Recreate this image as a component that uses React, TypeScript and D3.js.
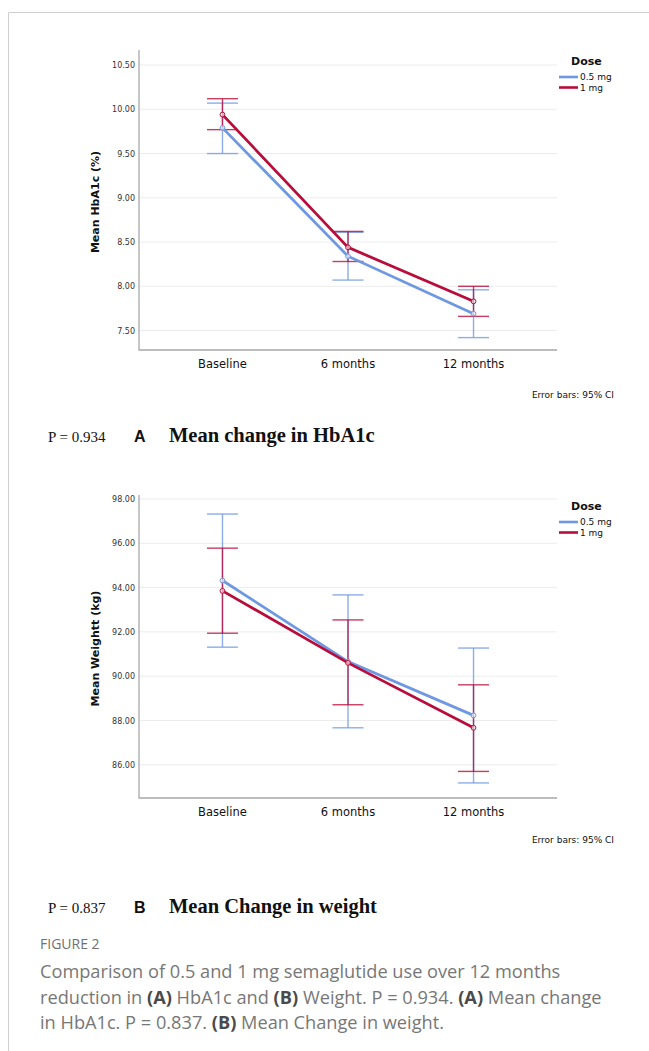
import React, { useRef, useEffect } from "react";
import * as d3 from "d3";

const categories = ["Baseline", "6 months", "12 months"];
const doses = ["0.5 mg", "1 mg"];
const doseColors = ["#6f98e3", "#b80d3a"];

// HbA1c (%), 95% CI
const hbMeanLow = [9.79, 8.34, 7.69];
const hbLoLow = [9.5, 8.07, 7.42];
const hbHiLow = [10.07, 8.61, 7.96];
const hbMeanHigh = [9.94, 8.44, 7.83];
const hbLoHigh = [9.77, 8.28, 7.66];
const hbHiHigh = [10.12, 8.62, 8.0];
const hbTicks = [7.5, 8.0, 8.5, 9.0, 9.5, 10.0, 10.5];

// Weight (kg), 95% CI
const wtMeanLow = [94.32, 90.66, 88.23];
const wtLoLow = [91.31, 87.67, 85.18];
const wtHiLow = [97.32, 93.67, 91.27];
const wtMeanHigh = [93.85, 90.6, 87.67];
const wtLoHigh = [91.94, 88.71, 85.7];
const wtHiHigh = [95.78, 92.54, 89.61];
const wtTicks = [86, 88, 90, 92, 94, 96, 98];

const sans = "'DejaVu Sans', Verdana, sans-serif";
const arial = "'Liberation Sans', Arial, sans-serif";
const serif = "'Liberation Serif', 'Times New Roman', serif";

const drawPanel = (g, opts) => {
  const { top, bottom, domain, ticks, title, series } = opts;
  const left = 139;
  const right = 557;

  const x = d3.scalePoint().domain(categories).range([left, right]).padding(0.665);
  const y = d3.scaleLinear().domain(domain).range([bottom, top]);

  // gridlines
  g.append("g")
    .selectAll("line")
    .data(ticks)
    .join("line")
    .attr("x1", left)
    .attr("x2", right)
    .attr("y1", (d) => y(d))
    .attr("y2", (d) => y(d))
    .attr("stroke", "#ececec")
    .attr("stroke-width", 1);

  // y axis
  const yAxis = d3.axisLeft(y).tickValues(ticks).tickSize(0).tickPadding(4).tickFormat(d3.format(".2f"));
  g.append("g")
    .attr("transform", `translate(${left},0)`)
    .call(yAxis)
    .call((a) => a.select(".domain").remove())
    .call((a) =>
      a.selectAll(".tick text").attr("fill", "#333").style("font-family", sans).style("font-size", "8px")
    );

  // axis lines
  g.append("path")
    .attr("d", `M${left},${top}V${bottom}H${right}`)
    .attr("fill", "none")
    .attr("stroke", "#a8a8a8")
    .attr("stroke-width", 1.3);

  // x labels
  g.append("g")
    .selectAll("text")
    .data(categories)
    .join("text")
    .attr("x", (d) => x(d))
    .attr("y", bottom + 18)
    .attr("text-anchor", "middle")
    .style("font-family", sans)
    .style("font-size", "11.5px")
    .attr("fill", "#111")
    .text((d) => d);

  // y title
  g.append("text")
    .attr("transform", `translate(99,${(top + bottom) / 2 + 2}) rotate(-90)`)
    .attr("text-anchor", "middle")
    .style("font-family", sans)
    .style("font-size", "11px")
    .style("font-weight", "bold")
    .attr("fill", "#111")
    .text(title);

  // error bars
  series.forEach((s, si) => {
    const color = doseColors[si];
    const pts = categories.map((c, i) => ({ c, m: s.mean[i], lo: s.lo[i], hi: s.hi[i] }));
    const eb = g.append("g").attr("stroke", color).attr("stroke-opacity", 0.8).attr("stroke-width", 1.4);
    eb.selectAll(".v")
      .data(pts)
      .join("line")
      .attr("x1", (d) => x(d.c))
      .attr("x2", (d) => x(d.c))
      .attr("y1", (d) => y(d.lo))
      .attr("y2", (d) => y(d.hi));
    ["lo", "hi"].forEach((k) => {
      eb.selectAll(`.cap-${k}`)
        .data(pts)
        .join("line")
        .attr("x1", (d) => x(d.c) - 15.5)
        .attr("x2", (d) => x(d.c) + 15.5)
        .attr("y1", (d) => y(d[k]))
        .attr("y2", (d) => y(d[k]));
    });
  });

  // mean lines and markers
  series.forEach((s, si) => {
    const color = doseColors[si];
    const line = d3
      .line()
      .x((d, i) => x(categories[i]))
      .y((d) => y(d));
    g.append("path")
      .attr("d", line(s.mean))
      .attr("fill", "none")
      .attr("stroke", color)
      .attr("stroke-width", 2.8);
    g.append("g")
      .selectAll("circle")
      .data(s.mean)
      .join("circle")
      .attr("cx", (d, i) => x(categories[i]))
      .attr("cy", (d) => y(d))
      .attr("r", 2.4)
      .attr("fill", "#fff")
      .attr("fill-opacity", 0.6)
      .attr("stroke", color)
      .attr("stroke-width", 1);
  });

  // legend
  const lg = g.append("g");
  lg.append("text")
    .attr("x", 571)
    .attr("y", top + 15)
    .style("font-family", sans)
    .style("font-size", "11px")
    .style("font-weight", "bold")
    .attr("fill", "#111")
    .text("Dose");
  doses.forEach((d, i) => {
    const ly = top + 27 + i * 10.5;
    lg.append("line")
      .attr("x1", 559)
      .attr("x2", 578)
      .attr("y1", ly)
      .attr("y2", ly)
      .attr("stroke", doseColors[i])
      .attr("stroke-width", 2.6);
    lg.append("text")
      .attr("x", 580)
      .attr("y", ly + 3)
      .style("font-family", sans)
      .style("font-size", "9px")
      .attr("fill", "#111")
      .text(d);
  });

  g.append("text")
    .attr("x", 614)
    .attr("y", top + 348)
    .attr("text-anchor", "end")
    .style("font-family", sans)
    .style("font-size", "9px")
    .attr("fill", "#111")
    .text("Error bars: 95% CI");
};

const App = () => {
  const svgRef = useRef(null);

  useEffect(() => {
    if (!svgRef.current) return;
    const svg = d3.select(svgRef.current);
    svg.selectAll("*").remove();

    svg.append("rect").attr("width", 649).attr("height", 1051).attr("fill", "#fff");
    // page frame
    svg.append("path")
      .attr("d", "M8.5,1051V12.5H649")
      .attr("fill", "none")
      .attr("stroke", "#cfcfcf")
      .attr("stroke-width", 1);

    drawPanel(svg.append("g"), {
      top: 50,
      bottom: 350,
      domain: [7.28, 10.67],
      ticks: hbTicks,
      title: "Mean HbA1c (%)",
      series: [
        { mean: hbMeanLow, lo: hbLoLow, hi: hbHiLow },
        { mean: hbMeanHigh, lo: hbLoHigh, hi: hbHiHigh },
      ],
    });

    drawPanel(svg.append("g"), {
      top: 495,
      bottom: 798,
      domain: [84.5, 98.18],
      ticks: wtTicks,
      title: "Mean Weightt (kg)",
      series: [
        { mean: wtMeanLow, lo: wtLoLow, hi: wtHiLow },
        { mean: wtMeanHigh, lo: wtLoHigh, hi: wtHiHigh },
      ],
    });

    // panel captions
    const panelCaps = [
      { y: 442, p: "P = 0.934", letter: "A", title: "Mean change in HbA1c" },
      { y: 913, p: "P = 0.837", letter: "B", title: "Mean Change in weight" },
    ];
    panelCaps.forEach((c) => {
      svg.append("text")
        .attr("x", 48)
        .attr("y", c.y)
        .style("font-family", serif)
        .style("font-size", "15px")
        .attr("fill", "#111")
        .text(c.p);
      svg.append("text")
        .attr("x", 134)
        .attr("y", c.y)
        .style("font-family", arial)
        .style("font-size", "16px")
        .style("font-weight", "bold")
        .attr("fill", "#111")
        .text(c.letter);
      svg.append("text")
        .attr("x", 169)
        .attr("y", c.y)
        .style("font-family", serif)
        .style("font-size", "20.5px")
        .style("font-weight", "bold")
        .attr("fill", "#111")
        .text(c.title);
    });

    // figure caption
    const capFont = "'Open Sans', Lato, sans-serif";
    svg.append("text")
      .attr("x", 40)
      .attr("y", 949)
      .style("font-family", capFont)
      .style("font-size", "14px")
      .attr("fill", "#707070")
      .text("FIGURE 2");

    const capLines = [
      [["Comparison of 0.5 and 1 mg semaglutide use over 12 months", false]],
      [
        ["reduction in ", false],
        ["(A)", true],
        [" HbA1c and ", false],
        ["(B)", true],
        [" Weight. P = 0.934. ", false],
        ["(A)", true],
        [" Mean change", false],
      ],
      [
        ["in HbA1c. P = 0.837. ", false],
        ["(B)", true],
        [" Mean Change in weight.", false],
      ],
    ];
    capLines.forEach((parts, i) => {
      const t = svg.append("text")
        .attr("x", 40)
        .attr("y", 978 + i * 25.5)
        .style("font-family", capFont)
        .style("font-size", "18.2px")
        .attr("fill", "#777")
        .attr("xml:space", "preserve");
      parts.forEach(([s, b]) => {
        t.append("tspan")
          .style("font-weight", b ? "bold" : "normal")
          .attr("fill", b ? "#4a4a4a" : "#777")
          .text(s);
      });
    });
  }, []);

  return (
    <svg
      ref={svgRef}
      width={649}
      height={1051}
      style={{ position: "absolute", left: 0, top: 0, display: "block" }}
    ></svg>
  );
};

export default App;
